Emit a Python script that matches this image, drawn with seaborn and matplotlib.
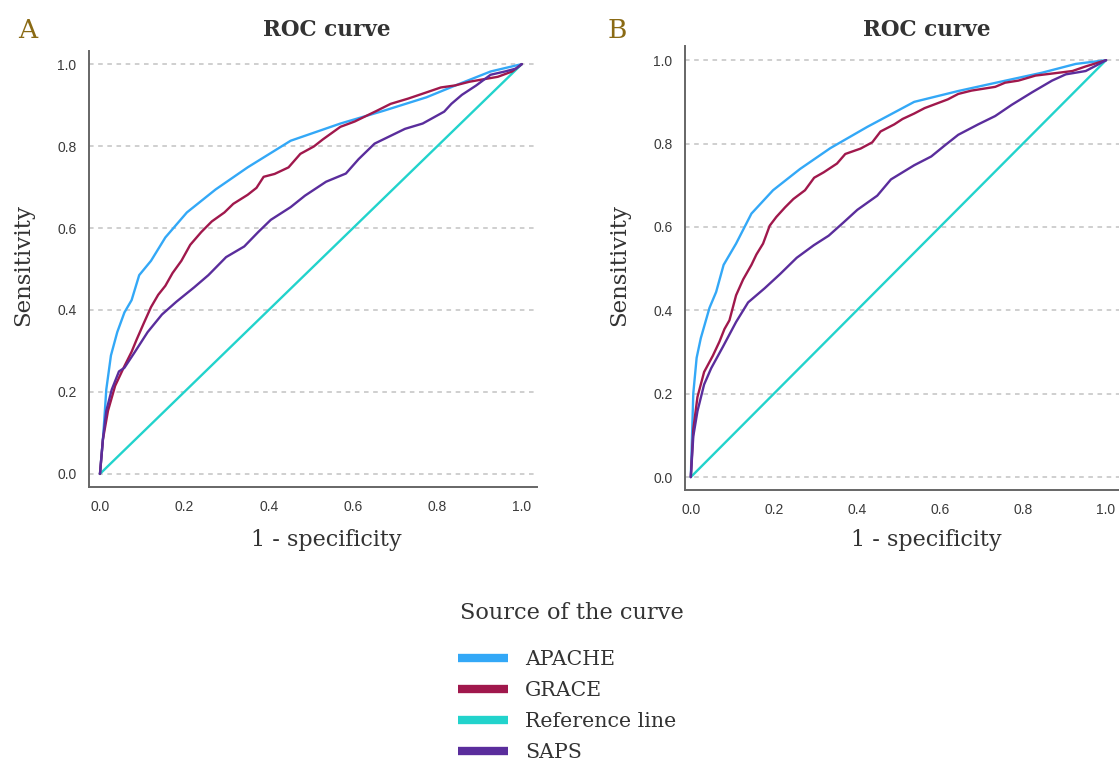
import numpy as np
import pandas as pd
import seaborn as sns
import matplotlib.pyplot as plt
from matplotlib.lines import Line2D

# ---- data ----
apache_a_x = [0, 0.008, 0.015, 0.026, 0.041, 0.058, 0.075, 0.093, 0.121, 0.155, 0.206, 0.274,
              0.350, 0.452, 0.570, 0.672, 0.774, 0.850, 0.926, 1.0]
apache_a_y = [0, 0.098, 0.206, 0.289, 0.346, 0.394, 0.424, 0.485, 0.520, 0.577, 0.638, 0.694,
              0.748, 0.813, 0.855, 0.886, 0.919, 0.951, 0.982, 1.0]

grace_a_x = [0, 0.007, 0.019, 0.036, 0.058, 0.075, 0.087, 0.104, 0.121, 0.138, 0.155, 0.172,
             0.193, 0.214, 0.240, 0.265, 0.295, 0.316, 0.350, 0.371, 0.388, 0.414, 0.447,
             0.475, 0.507, 0.528, 0.570, 0.604, 0.630, 0.656, 0.689, 0.731, 0.774, 0.808,
             0.842, 0.876, 0.909, 0.943, 0.977, 1.0]
grace_a_y = [0, 0.084, 0.154, 0.215, 0.263, 0.298, 0.328, 0.368, 0.407, 0.437, 0.459, 0.490,
             0.520, 0.559, 0.590, 0.616, 0.638, 0.659, 0.681, 0.698, 0.725, 0.732, 0.748,
             0.781, 0.799, 0.816, 0.847, 0.860, 0.873, 0.886, 0.903, 0.916, 0.931, 0.943,
             0.948, 0.957, 0.963, 0.969, 0.982, 1.0]

saps_a_x = [0, 0.007, 0.015, 0.028, 0.045, 0.058, 0.083, 0.113, 0.147, 0.181, 0.223, 0.257,
            0.299, 0.342, 0.375, 0.405, 0.452, 0.486, 0.536, 0.583, 0.613, 0.651, 0.689,
            0.723, 0.765, 0.816, 0.833, 0.858, 0.892, 0.926, 0.960, 0.986, 1.0]
saps_a_y = [0, 0.084, 0.154, 0.206, 0.250, 0.259, 0.298, 0.346, 0.389, 0.420, 0.455, 0.485,
            0.529, 0.555, 0.590, 0.620, 0.651, 0.679, 0.713, 0.733, 0.768, 0.806, 0.825,
            0.842, 0.855, 0.884, 0.903, 0.925, 0.948, 0.974, 0.982, 0.989, 1.0]

apache_b_x = [0, 0.006, 0.014, 0.024, 0.045, 0.061, 0.079, 0.109, 0.146, 0.198, 0.263, 0.336,
              0.425, 0.538, 0.644, 0.749, 0.846, 0.927, 1.0]
apache_b_y = [0, 0.201, 0.286, 0.333, 0.406, 0.444, 0.509, 0.560, 0.632, 0.688, 0.739, 0.789,
              0.840, 0.900, 0.926, 0.949, 0.970, 0.991, 1.0]

grace_b_x = [0, 0.006, 0.016, 0.032, 0.053, 0.069, 0.081, 0.093, 0.109, 0.126, 0.146, 0.158,
             0.174, 0.190, 0.206, 0.227, 0.247, 0.275, 0.297, 0.320, 0.352, 0.372, 0.409,
             0.437, 0.457, 0.490, 0.510, 0.538, 0.563, 0.595, 0.619, 0.644, 0.676, 0.733,
             0.757, 0.789, 0.830, 0.887, 0.919, 0.951, 1.0]
grace_b_y = [0, 0.115, 0.192, 0.252, 0.291, 0.325, 0.355, 0.376, 0.436, 0.474, 0.509, 0.534,
             0.560, 0.603, 0.624, 0.647, 0.667, 0.688, 0.718, 0.731, 0.752, 0.775, 0.788,
             0.803, 0.829, 0.846, 0.859, 0.872, 0.885, 0.897, 0.906, 0.919, 0.927, 0.936,
             0.946, 0.951, 0.963, 0.970, 0.974, 0.985, 1.0]

saps_b_x = [0, 0.006, 0.016, 0.032, 0.049, 0.077, 0.109, 0.138, 0.178, 0.215, 0.255, 0.296,
            0.332, 0.368, 0.401, 0.449, 0.482, 0.538, 0.579, 0.611, 0.644, 0.692, 0.733,
            0.773, 0.822, 0.870, 0.903, 0.951, 0.976, 1.0]
saps_b_y = [0, 0.098, 0.158, 0.222, 0.261, 0.312, 0.372, 0.419, 0.453, 0.487, 0.526, 0.556,
            0.579, 0.611, 0.641, 0.675, 0.714, 0.748, 0.769, 0.795, 0.821, 0.846, 0.866,
            0.893, 0.923, 0.951, 0.966, 0.974, 0.987, 1.0]

ref_x = [0, 1]
ref_y = [0, 1]

series = ["APACHE", "GRACE", "Reference line", "SAPS"]
colors = {"APACHE": "#33a8f7", "GRACE": "#a0184c", "Reference line": "#22d3cc", "SAPS": "#5a2d9c"}

sns.set_style("white")
plt.rcParams['font.family'] = ['DejaVu Serif']

W, H = 1119, 760
fig = plt.figure(figsize=(W / 100, H / 100), dpi=100)


def px_axes(left, top, right, bottom):
    return fig.add_axes([left / W, 1 - bottom / H, (right - left) / W, (bottom - top) / H])


panels = [
    ("A", px_axes(89, 51, 537, 487), (-0.026, 1.036), (-0.032, 1.032),
     {"APACHE": (apache_a_x, apache_a_y), "GRACE": (grace_a_x, grace_a_y), "SAPS": (saps_a_x, saps_a_y)},
     (18, 31), (327, 30), (326, 540), (23, 265)),
    ("B", px_axes(685, 46, 1121, 490), (-0.014, 1.036), (-0.031, 1.034),
     {"APACHE": (apache_b_x, apache_b_y), "GRACE": (grace_b_x, grace_b_y), "SAPS": (saps_b_x, saps_b_y)},
     (608, 31), (927, 30), (926, 540), (619, 265)),
]

for letter, ax, xl, yl, curves, lpos, tpos, xlpos, ylpos in panels:
    frames = [pd.DataFrame({"x": ref_x, "y": ref_y, "src": "Reference line"})]
    for name, (xs, ys) in curves.items():
        frames.append(pd.DataFrame({"x": xs, "y": ys, "src": name}))
    df = pd.concat(frames, ignore_index=True)
    sns.lineplot(data=df, x="x", y="y", hue="src", palette=colors, sort=False,
                 estimator=None, linewidth=1.7, legend=False, ax=ax)

    ax.set_xlim(*xl)
    ax.set_ylim(*yl)
    ticks = [0, 0.2, 0.4, 0.6, 0.8, 1.0]
    ax.set_xticks(ticks)
    ax.set_yticks(ticks)
    ax.set_xticklabels([f"{t:.1f}" for t in ticks])
    ax.set_yticklabels([f"{t:.1f}" for t in ticks])
    ax.tick_params(length=0, labelsize=10, labelcolor="#3a3a3a", pad=9)
    for lab in ax.get_xticklabels() + ax.get_yticklabels():
        lab.set_fontfamily("Liberation Sans")
    ax.yaxis.grid(True, color="#c2c2c2", linestyle=(0, (3, 3)), linewidth=1.1)
    ax.xaxis.grid(False)
    for s in ["top", "right"]:
        ax.spines[s].set_visible(False)
    for s in ["left", "bottom"]:
        ax.spines[s].set_color("#666666")
        ax.spines[s].set_linewidth(1.4)
    ax.set_xlabel("")
    ax.set_ylabel("")

    fig.text(lpos[0] / W, 1 - lpos[1] / H, letter, fontsize=19, color="#8a6a14", va="center", ha="left")
    fig.text(tpos[0] / W, 1 - tpos[1] / H, "ROC curve", fontsize=15.5, fontweight="bold",
             color="#333333", va="center", ha="center")
    fig.text(xlpos[0] / W, 1 - xlpos[1] / H, "1 - specificity", fontsize=16,
             color="#333333", va="center", ha="center")
    fig.text(ylpos[0] / W, 1 - ylpos[1] / H, "Sensitivity", fontsize=16.5, rotation=90,
             color="#333333", va="center", ha="center")

# legend: title as its own text, entries below
fig.text(460 / W, 1 - 613 / H, "Source of the curve", fontsize=16.2, color="#333333",
         va="center", ha="left")
handles = [Line2D([], [], color=colors[s], linewidth=6, solid_capstyle="butt") for s in series]
leg = fig.legend(handles, series, loc="upper left", bbox_to_anchor=(450 / W, 1 - 642 / H),
                 frameon=False, fontsize=14.8, borderaxespad=0, handlelength=2.43,
                 handletextpad=0.83, labelspacing=0.58)
for t in leg.get_texts():
    t.set_color("#333333")

fig.savefig("out.png", dpi=100)
